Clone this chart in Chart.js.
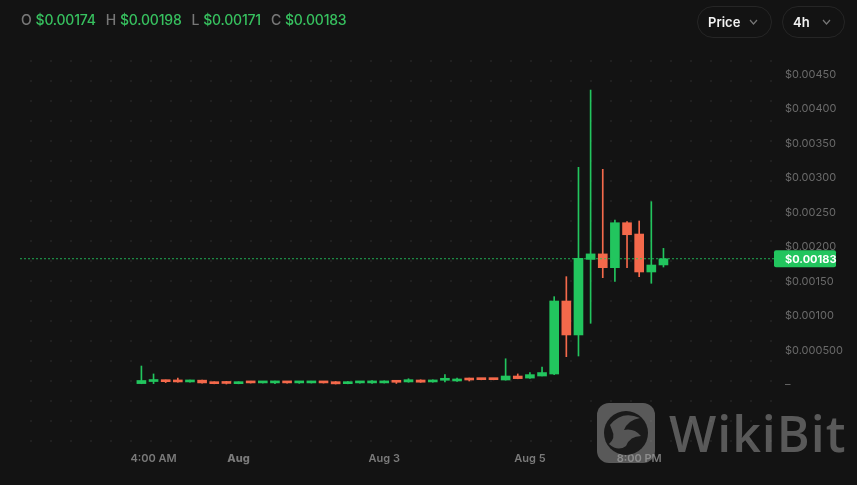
<!DOCTYPE html>
<html>
<head>
<meta charset="utf-8">
<script src="https://cdn.jsdelivr.net/npm/chart.js@4.4.0/dist/chart.umd.min.js"></script>
<style>
html,body{margin:0;padding:0;background:#131313;}
#wrap{position:relative;width:857px;height:485px;overflow:hidden;}
#c{position:absolute;left:0;top:0;}
#ohlc{position:absolute;left:21px;top:11px;font:500 14px Inter,sans-serif;color:#777;white-space:nowrap;letter-spacing:-0.2px;}
#ohlc b{font-weight:500;color:#37c15f;margin-left:4px;margin-right:10px;}
.btn{position:absolute;top:6px;height:32px;border:1px solid #262626;border-radius:16px;box-sizing:border-box;
  color:#f2f2f2;font:600 13px Inter,sans-serif;line-height:30px;padding-left:10px;}
.btn svg{position:absolute;top:12px;}
#wm{position:absolute;left:0;top:0;pointer-events:none;}
#wmText{position:absolute;left:669px;top:408px;font:600 50px "Open Sans",sans-serif;line-height:50px;
  color:rgba(160,160,160,0.5);letter-spacing:1px;pointer-events:none;}
</style>
</head>
<body>
<div id="wrap">
  <canvas id="c" width="857" height="485"></canvas>
  <div id="ohlc"></div>
  <div class="btn" style="left:697px;width:75px;">Price<svg style="left:51px" width="9" height="6"><polyline points="1,1 4.5,5 8,1" fill="none" stroke="#777" stroke-width="1.2"/></svg></div>
  <div class="btn" style="left:782px;width:63px;">4h<svg style="left:39px" width="9" height="6"><polyline points="1,1 4.5,5 8,1" fill="none" stroke="#777" stroke-width="1.2"/></svg></div>
  <svg id="wm" width="857" height="485">
    <rect x="597" y="403" width="58" height="60" rx="12" fill="rgba(160,160,160,0.5)"/>
    <circle cx="626" cy="433" r="22" fill="rgba(15,15,15,0.85)"/>
    <path d="M610 425 Q622 410 640 418 Q628 420 624 430 Q634 428 641 436 Q630 436 626 446 Q618 452 609 444 Q616 438 612 430 Z" fill="rgba(160,160,160,0.45)"/>
  </svg>
  <div id="wmText">WikiBit</div>
</div>
<script>
// 4h candles, oldest first
var opens  = [0.000020,0.000050,0.000060,0.000068,0.000044,0.000070,0.000044,0.000030,0.000019,0.000040,
              0.000030,0.000030,0.000042,0.000030,0.000030,0.000044,0.000048,0.000019,0.000030,0.000030,
              0.000030,0.000058,0.000044,0.000072,0.000044,0.000068,0.000058,0.000091,0.000091,0.000091,
              0.000072,0.000130,0.000100,0.000130,0.000159,0.001217,0.000725,0.001820,0.001900,0.001700,
              0.002352,0.002188,0.001638,0.00174];
var highs  = [0.000275,0.000160,0.000072,0.000100,0.000072,0.000072,0.000046,0.000053,0.000046,0.000042,
              0.000042,0.000055,0.000044,0.000053,0.000046,0.000046,0.000050,0.000050,0.000046,0.000062,
              0.000060,0.000062,0.000091,0.000075,0.000075,0.000150,0.000100,0.000100,0.000094,0.000094,
              0.000380,0.000160,0.000180,0.000260,0.001280,0.001570,0.003155,0.004275,0.003126,0.002390,
              0.002367,0.002377,0.002657,0.00198];
var lows   = [0.000018,0.000020,0.000035,0.000040,0.000042,0.000028,0.000017,0.000014,0.000017,0.000028,
              0.000028,0.000020,0.000028,0.000024,0.000028,0.000028,0.000014,0.000017,0.000028,0.000022,
              0.000028,0.000022,0.000040,0.000038,0.000040,0.000044,0.000053,0.000058,0.000075,0.000075,
              0.000070,0.000090,0.000095,0.000130,0.000150,0.000410,0.000420,0.000894,0.001555,0.001500,
              0.001700,0.001570,0.001474,0.00171];
var closes = [0.000065,0.000070,0.000048,0.000044,0.000070,0.000030,0.000019,0.000022,0.000044,0.000030,
              0.000040,0.000042,0.000030,0.000042,0.000044,0.000030,0.000016,0.000048,0.000044,0.000048,
              0.000058,0.000039,0.000077,0.000040,0.000072,0.000082,0.000087,0.000072,0.000077,0.000077,
              0.000130,0.000092,0.000150,0.000180,0.001217,0.000725,0.001836,0.001900,0.001700,0.002352,
              0.002178,0.001638,0.001739,0.00183];

var yTickValues = [0,0.0005,0.001,0.0015,0.002,0.0025,0.003,0.0035,0.004,0.0045];
var yTickLabels = ['–','$0.000500','$0.00100','$0.00150','$0.00200','$0.00250','$0.00300','$0.00350','$0.00400','$0.00450'];
var xTickIndex  = [1,8,20,32,41];
var xTickLabels = ['4:00 AM','Aug','Aug 3','Aug 5','8:00 PM'];

var UP = '#22c55e', DOWN = '#f4694b';
var n = closes.length;
var lastClose = closes[n-1];

function fmt(v){ return '$' + v.toFixed(5); }
document.getElementById('ohlc').innerHTML =
  'O<b>' + fmt(opens[n-1]) + '</b>H<b>' + fmt(highs[n-1]) + '</b>L<b>' + fmt(lows[n-1]) + '</b>C<b>' + fmt(closes[n-1]) + '</b>';

function candleColor(ctx){
  var i = ctx.dataIndex;
  return closes[i] >= opens[i] ? UP : DOWN;
}

var dotGrid = {
  id: 'dotGrid',
  beforeDatasetsDraw: function(chart){
    var ctx = chart.ctx, a = chart.chartArea;
    ctx.save();
    ctx.fillStyle = '#2c2c2c';
    for (var x = a.left + 11; x <= a.right - 4; x += 20)
      for (var y = a.top + 16; y <= a.bottom - 3; y += 20)
        ctx.fillRect(x - 0.75, y - 0.75, 1.5, 1.5);
    ctx.restore();
  }
};

var lastLabel = {
  id: 'lastLabel',
  afterDraw: function(chart){
    var ctx = chart.ctx, a = chart.chartArea;
    var y = chart.scales.y.getPixelForValue(lastClose);
    ctx.save();
    ctx.fillStyle = UP;
    ctx.beginPath();
    ctx.roundRect(a.right - 2, y - 8.5, 62, 17, 2);
    ctx.fill();
    ctx.fillStyle = '#ffffff';
    ctx.font = '700 11px Inter, sans-serif';
    ctx.textBaseline = 'middle';
    ctx.fillText(fmt(lastClose), a.right + 9, y + 0.5);
    ctx.restore();
  }
};

var xMin = -10, xMax = 52.27;

var myChart = new Chart(document.getElementById('c').getContext('2d'), {
  type: 'bar',
  data: {
    datasets: [{
      type: 'line',
      data: [{x: xMin, y: lastClose}, {x: xMax, y: lastClose}],
      borderColor: 'rgba(34,197,94,0.85)',
      borderWidth: 1,
      borderDash: [2, 2],
      pointRadius: 0,
      order: 0
    }, {
      data: opens.map(function(o, i){ return {x: i, y: [o, closes[i]]}; }),
      backgroundColor: candleColor,
      barThickness: 9,
      minBarLength: 2,
      grouped: false,
      order: 1
    }, {
      data: lows.map(function(l, i){ return {x: i, y: [l, highs[i]]}; }),
      backgroundColor: candleColor,
      barThickness: 1,
      grouped: false,
      order: 2
    }]
  },
  options: {
    responsive: false,
    animation: false,
    layout: { padding: { left: 20, top: 45, right: 0, bottom: 0 } },
    plugins: { legend: { display: false }, tooltip: { enabled: false } },
    scales: {
      x: {
        type: 'linear',
        offset: false,
        min: xMin,
        max: xMax,
        grid: { display: false, drawTicks: false },
        border: { display: false },
        afterBuildTicks: function(s){ s.ticks = xTickIndex.map(function(v){ return {value: v}; }); },
        afterFit: function(s){ s.height = 40; },
        ticks: {
          autoSkip: false,
          maxRotation: 0,
          padding: 7,
          color: '#7a7a7a',
          font: function(c){ return {family: 'Inter, sans-serif', size: 11, weight: c.index === 1 ? 800 : 600}; },
          callback: function(v, i){ return xTickLabels[i]; }
        }
      },
      y: {
        position: 'right',
        min: -0.00087,
        max: 0.004928,
        grid: { display: false, drawTicks: false },
        border: { display: false },
        afterBuildTicks: function(s){ s.ticks = yTickValues.map(function(v){ return {value: v}; }); },
        afterFit: function(s){ s.width = 81; },
        ticks: {
          padding: 9,
          color: '#6a6a6a',
          font: { family: 'Inter, sans-serif', size: 11 },
          callback: function(v, i){ return yTickLabels[i]; }
        }
      }
    }
  },
  plugins: [dotGrid, lastLabel]
});
</script>
</body>
</html>
